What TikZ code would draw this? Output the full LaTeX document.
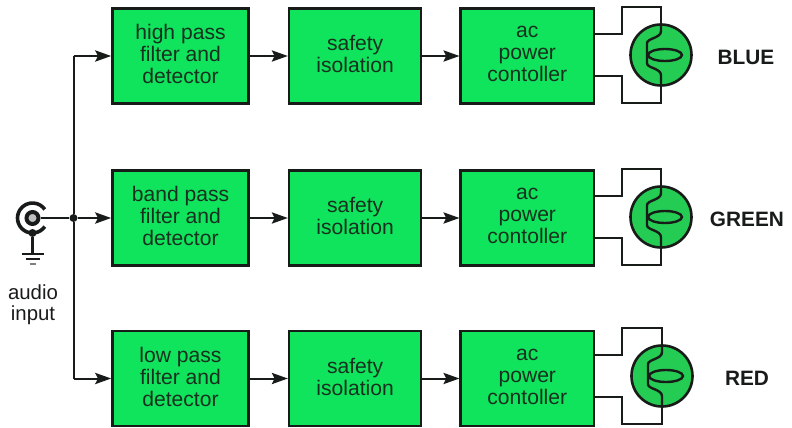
\documentclass[tikz,border=0pt]{standalone}
\usepackage{fontspec}
\setmainfont{Liberation Sans}
\usepackage{xcolor}
\usetikzlibrary{arrows.meta, positioning, shapes.geometric, calc}
\definecolor{boxGreen}{RGB}{16,228,92}
\definecolor{lampGreen}{RGB}{36,204,84}
\definecolor{darkLine}{RGB}{24,28,24}
\tikzset{
    filterbox/.style={
        rectangle,
        draw=darkLine,
        line width=0.065cm,
        align=center,
        fill=boxGreen,
        minimum width=3.4cm,
        minimum height=2.375cm,
        inner sep=0pt,
        text depth=0.1cm,
        text=darkLine!90!boxGreen,
        font=\fontsize{15}{15.6}\selectfont
    },
    safetybox/.style={filterbox, minimum width=3.3cm},
    powerbox/.style={filterbox, minimum width=3.325cm},
    lampnode/.style={circle, draw=darkLine, line width=0.065cm, fill=lampGreen, minimum size=1.525cm, inner sep=0pt},
    lensnode/.style={ellipse, draw=darkLine, line width=0.06cm, minimum width=0.85cm, minimum height=0.3cm, inner sep=0pt},
    wire/.style={draw=darkLine, line width=0.05cm},
    flowarrow/.style={wire, -{Stealth[length=4mm,width=2.8mm,inset=0.7mm]}},
    joint/.style={circle, fill=darkLine, minimum size=0.2cm, inner sep=0pt},
    colorlabel/.style={font=\fontsize{14.8}{15}\selectfont\bfseries, text=darkLine},
    inputlabel/.style={align=center, text=darkLine, font=\fontsize{14.5}{15}\selectfont}
}
\begin{document}
\begin{tikzpicture}[x=0.025cm, y=-0.025cm, node distance=0.95cm]
    \useasboundingbox (0,0) rectangle (792,428);
    % filter column
    \node[filterbox] (hpass) at (180.5,56) {high pass\\filter and\\detector};
    \node[filterbox] (bpass) at (180.5,218) {band pass\\filter and\\detector};
    \node[filterbox] (lpass) at (180.5,378.5) {low pass\\filter and\\detector};
    \node[safetybox, right=of hpass] (isolA) {safety\\isolation};
    \node[safetybox, right=of bpass] (isolB) {safety\\isolation};
    \node[safetybox, right=of lpass] (isolC) {safety\\isolation};
    \node[powerbox, right=0.925cm of isolA] (powerA) {ac\\power\\contoller};
    \node[powerbox, right=0.925cm of isolB] (powerB) {ac\\power\\contoller};
    \node[powerbox, right=0.925cm of isolC] (powerC) {ac\\power\\contoller};
    % lamps
    \node[lampnode] (lampA) at (661,55) {};
    \node[lampnode] (lampB) at (661,217) {};
    \node[lampnode] (lampC) at (662,376) {};
    \node[colorlabel] (blue) at (746,57) {BLUE};
    \node[colorlabel] (green) at (747,219) {GREEN};
    \node[colorlabel] (red) at (747,378) {RED};
    \foreach \row in {A,B,C} {
        \node[lensnode] (lens\row) at ($(lamp\row)+(4,0)$) {};
        \draw[wire, line width=0.06cm] (lamp\row.north) -- ++(0,8) .. controls +(0,7) and +(0,-5) .. ++(-14,12)
            -- ++(0,20) .. controls +(0,5) and +(0,-7) .. ++(14,12) -- (lamp\row.south);
        \draw[wire] ($(lamp\row.center -| power\row.east)+(0,-21)$) -- ++(27,0) |- ($(lamp\row.north)+(0,-16)$) -- (lamp\row.north);
        \draw[wire] ($(lamp\row.center -| power\row.east)+(0,21)$) -- ++(27,0) |- ($(lamp\row.south)+(0,16)$) -- (lamp\row.south);
    }
    % input jack
    \node[circle, draw=darkLine, line width=0.1cm, fill=lightgray, minimum size=0.3cm, inner sep=0pt] (jack) at (32.5,218) {};
    \draw[wire, line width=0.09cm] ($(jack)+(35:15)$) arc[start angle=35, end angle=325, radius=15];
    \node[joint] (jackdot) at (32.5,233) {};
    \node[joint] (busjoint) at (73.5,218) {};
    \coordinate (gnd) at (32.5,254);
    \coordinate (tapA) at (hpass.west -| busjoint);
    \coordinate (tapC) at (lpass.west -| busjoint);
    \draw[wire] (jackdot) -- (gnd);
    \draw[wire] ($(gnd)+(-11,0)$) -- ($(gnd)+(11,0)$);
    \draw[wire] ($(gnd)+(-7,5)$) -- ($(gnd)+(7,5)$);
    \draw[wire, gray] ($(gnd)+(-3,10)$) -- ($(gnd)+(3,10)$);
    \node[inputlabel] (audio) at (33,305) {audio\\input};
    % connectors
    \draw[wire] (jack) -- (busjoint);
    \draw[wire] (tapA) -- (busjoint) -- (tapC);
    \draw[flowarrow] (tapA) -- (hpass);
    \draw[flowarrow] (busjoint) -- (bpass);
    \draw[flowarrow] (tapC) -- (lpass);
    \draw[flowarrow] (hpass) -- (isolA);
    \draw[flowarrow] (bpass) -- (isolB);
    \draw[flowarrow] (lpass) -- (isolC);
    \draw[flowarrow] (isolA) -- (powerA);
    \draw[flowarrow] (isolB) -- (powerB);
    \draw[flowarrow] (isolC) -- (powerC);
\end{tikzpicture}
\end{document}
